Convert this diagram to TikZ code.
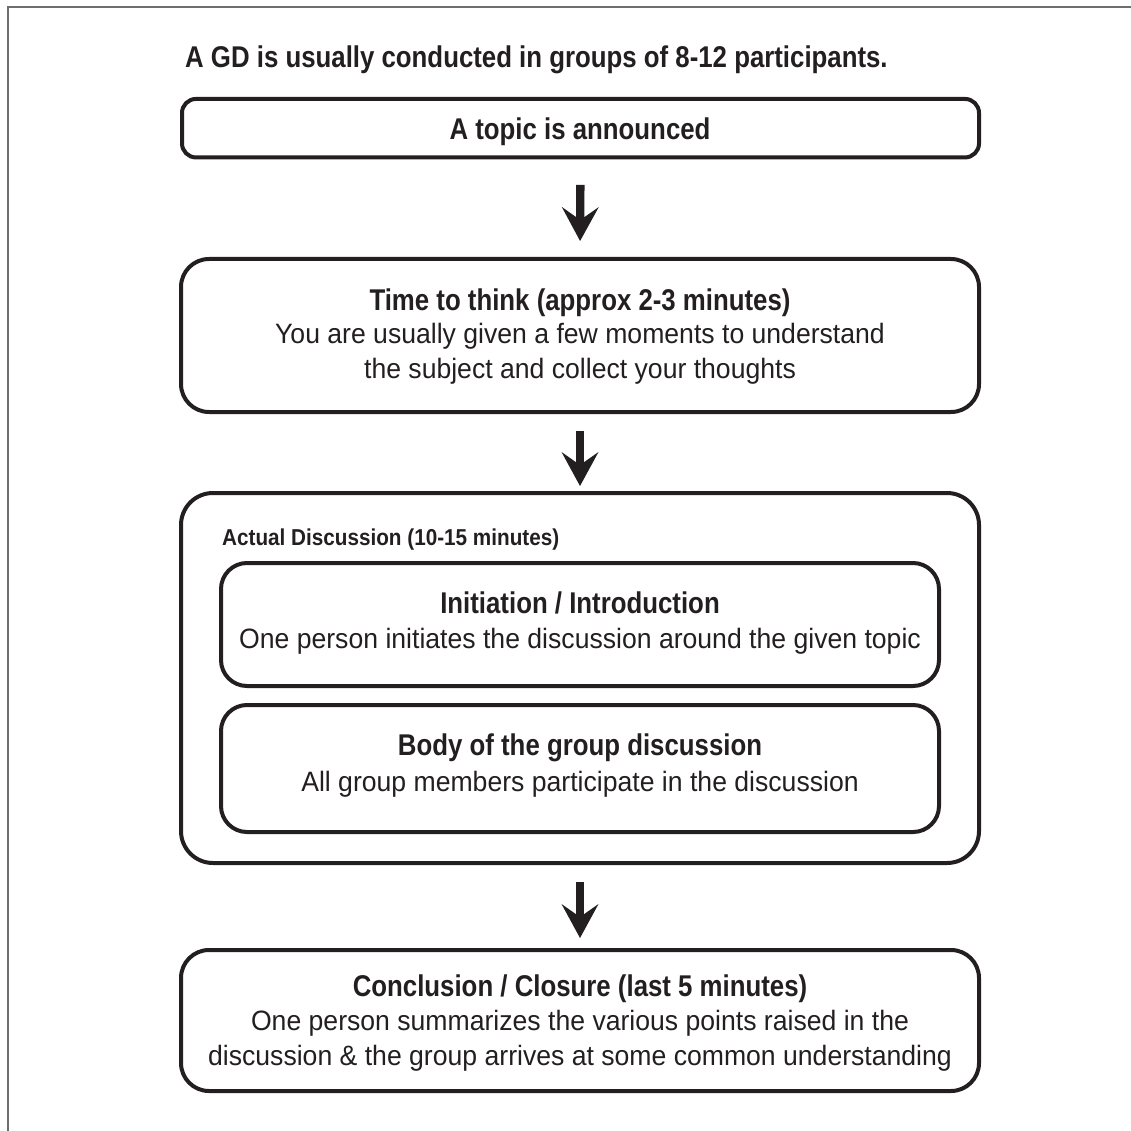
\documentclass[tikz,border=0pt]{standalone}
\usepackage{fontspec}
\setmainfont{Liberation Sans}
\newfontfamily\boldcn{Liberation Sans}[FakeStretch=0.86]
\newfontfamily\labelcn{Liberation Sans}[FakeStretch=0.9]
\newfontfamily\textcn{Liberation Sans}[FakeStretch=0.95]
\usetikzlibrary{arrows.meta}
\definecolor{ink}{HTML}{231F20}
\definecolor{framegray}{HTML}{6D6E71}
\begin{document}
\begin{tikzpicture}[x=1pt,y=-1pt,
  box/.style={draw=ink, line width=4pt, rounded corners=#1, inner sep=0pt},
  box/.default=28pt,
  headtxt/.style={anchor=base, inner sep=0pt, text=ink, font=\boldcn\bfseries\fontsize{30}{36}\selectfont},
  bodytxt/.style={anchor=base, inner sep=0pt, text=ink, font=\textcn\fontsize{28}{34}\selectfont},
  arr/.style={draw=ink, line width=8.3pt,
    -{Stealth[length=34pt, width=37pt, inset=13pt, line width=0pt]}}
]
\useasboundingbox (0,0) rectangle (1131,1131);
% frame
\draw[framegray, line width=2.3pt] (8,1131) -- (8,7) -- (1131,7);

% title
\node[anchor=base west, inner sep=0pt, text=ink,
  font=\boldcn\bfseries\fontsize{30}{36}\selectfont] (title) at (185,68)
  {A GD is usually conducted in groups of 8-12 participants.};

% boxes
\node[box=14pt, minimum width=797pt, minimum height=58.5pt] (b1) at (580.5,128.2) {};
\node[box=28pt, minimum width=798pt, minimum height=153pt] (b2) at (580,335.5) {};
\node[box=32pt, minimum width=798pt, minimum height=370pt] (b3) at (580,678) {};
\node[box=26pt, minimum width=718pt, minimum height=123pt] (ba) at (580,624.5) {};
\node[box=26pt, minimum width=718pt, minimum height=127pt] (bb) at (580,768.5) {};
\node[box=28pt, minimum width=798pt, minimum height=141pt] (b4) at (580,1020.5) {};

% texts
\node[headtxt] (t1) at (580,140) {A topic is announced};

\node[headtxt] (t2a) at (580,310) {Time to think (approx 2-3 minutes)};
\node[bodytxt] (t2b) at (580,343) {You are usually given a few moments to understand};
\node[bodytxt] (t2c) at (580,378) {the subject and collect your thoughts};

\node[anchor=base west, inner sep=0pt, text=ink,
  font=\labelcn\bfseries\fontsize{23}{28}\selectfont] (lab) at (222,545)
  {Actual Discussion (10-15 minutes)};

\node[headtxt] (ta1) at (580,613) {Initiation / Introduction};
\node[bodytxt] (ta2) at (580,648) {One person initiates the discussion around the given topic};

\node[headtxt] (tb1) at (580,755) {Body of the group discussion};
\node[bodytxt] (tb2) at (580,791) {All group members participate in the discussion};

\node[headtxt] (t4a) at (580,996) {Conclusion / Closure (last 5 minutes)};
\node[bodytxt] (t4b) at (580,1030) {One person summarizes the various points raised in the};
\node[bodytxt] (t4c) at (580,1065) {discussion \& the group arrives at some common understanding};

% arrows
\draw[arr, shorten <=25.5pt, shorten >=16pt] (b1.south) -- (b2.north);
\draw[arr, shorten <=17pt, shorten >=5pt] (b2.south) -- (b3.north);
\draw[arr, shorten <=17pt, shorten >=10pt] (b3.south) -- (b4.north);
\end{tikzpicture}
\end{document}
